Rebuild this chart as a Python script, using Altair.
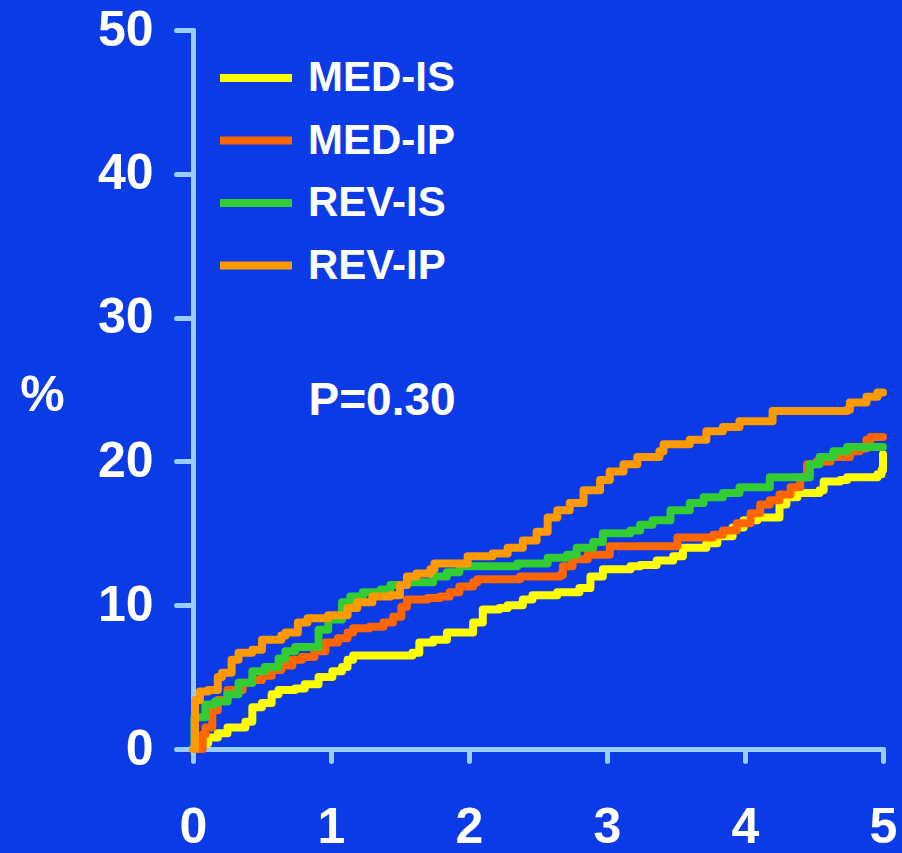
import altair as alt
import pandas as pd

series_names = ["MED-IS", "MED-IP", "REV-IS", "REV-IP"]
series_colors = ["#FFFF00", "#FF6600", "#33CC33", "#FF9900"]

med_is_t = [0, 0.03, 0.07, 0.11, 0.18, 0.25, 0.38, 0.43, 0.50, 0.57, 0.62, 0.74, 0.81, 0.91, 1.01, 1.08, 1.12, 1.16, 1.38, 1.59, 1.64, 1.74, 1.84, 1.96, 2.03, 2.10, 2.22, 2.28, 2.39, 2.46, 2.64, 2.80, 2.88, 2.97, 3.17, 3.24, 3.36, 3.48, 3.55, 3.72, 3.80, 3.91, 3.99, 4.09, 4.25, 4.30, 4.38, 4.54, 4.57, 4.69, 4.74, 4.96, 4.99, 5.0]
med_is_y = [0, 0.3, 0.4, 0.8, 1.1, 1.5, 1.9, 2.9, 3.2, 3.8, 4.1, 4.2, 4.5, 5.0, 5.4, 5.7, 6.2, 6.5, 6.5, 6.7, 7.4, 7.6, 8.1, 8.1, 8.8, 9.7, 9.8, 10.0, 10.4, 10.7, 10.9, 11.2, 12.0, 12.5, 12.7, 12.8, 13.1, 13.4, 14.0, 14.3, 14.8, 15.4, 15.9, 16.1, 17.0, 17.5, 17.8, 18.0, 18.6, 18.7, 18.9, 19.1, 19.4, 20.5]

med_ip_t = [0, 0.07, 0.09, 0.14, 0.18, 0.25, 0.36, 0.43, 0.50, 0.57, 0.64, 0.72, 0.79, 0.88, 0.96, 1.05, 1.12, 1.16, 1.28, 1.38, 1.45, 1.51, 1.55, 1.70, 1.79, 1.86, 1.93, 2.03, 2.06, 2.37, 2.66, 2.68, 2.75, 2.86, 3.02, 3.38, 3.51, 3.77, 3.84, 3.94, 4.04, 4.11, 4.18, 4.25, 4.33, 4.40, 4.45, 4.52, 4.62, 4.76, 4.83, 4.88, 4.91, 5.0]
med_ip_y = [0, 1.0, 1.5, 2.7, 3.4, 4.1, 4.6, 4.8, 5.1, 5.5, 5.8, 6.2, 6.4, 6.8, 7.4, 7.7, 8.1, 8.4, 8.5, 8.8, 9.2, 9.9, 10.4, 10.5, 10.6, 10.9, 11.3, 11.6, 11.8, 12.0, 12.1, 12.7, 13.2, 13.5, 14.1, 14.1, 14.7, 14.9, 15.2, 15.7, 16.4, 17.0, 17.3, 17.7, 18.2, 18.9, 19.8, 20.0, 20.3, 20.7, 20.9, 21.5, 21.7, 21.7]

rev_is_t = [0, 0.01, 0.09, 0.16, 0.25, 0.33, 0.43, 0.52, 0.62, 0.67, 0.74, 0.83, 0.91, 0.98, 1.08, 1.14, 1.23, 1.36, 1.43, 1.55, 1.64, 1.74, 1.84, 1.93, 2.03, 2.35, 2.57, 2.71, 2.78, 2.90, 2.97, 3.17, 3.24, 3.33, 3.46, 3.60, 3.70, 3.84, 3.96, 4.16, 4.18, 4.42, 4.47, 4.54, 4.64, 4.74, 5.0]
rev_is_y = [0, 2.2, 3.1, 3.3, 3.8, 4.6, 5.4, 5.7, 6.3, 6.8, 7.1, 7.1, 8.3, 9.0, 10.2, 10.6, 10.9, 11.1, 11.4, 11.6, 11.6, 12.0, 12.3, 12.7, 12.7, 12.9, 13.3, 13.5, 14.0, 14.4, 15.0, 15.2, 15.6, 15.9, 16.6, 17.1, 17.5, 17.8, 18.2, 18.2, 18.9, 18.9, 19.8, 20.3, 20.7, 21.0, 21.0]

rev_ip_t = [0, 0.015, 0.05, 0.11, 0.18, 0.21, 0.28, 0.33, 0.43, 0.50, 0.64, 0.67, 0.76, 0.83, 0.98, 1.12, 1.19, 1.30, 1.43, 1.50, 1.55, 1.62, 1.72, 1.75, 1.88, 1.99, 2.17, 2.28, 2.39, 2.49, 2.57, 2.64, 2.73, 2.83, 2.95, 3.02, 3.12, 3.22, 3.38, 3.41, 3.60, 3.72, 3.84, 3.96, 4.16, 4.20, 4.74, 4.76, 4.88, 4.96, 5.0]
rev_ip_y = [0, 3.4, 4.0, 4.1, 5.0, 5.3, 6.2, 6.7, 6.9, 7.6, 7.9, 8.1, 8.8, 9.1, 9.3, 9.8, 10.2, 10.6, 10.7, 11.4, 12.0, 12.2, 12.5, 12.9, 12.9, 13.4, 13.6, 14.0, 14.5, 15.1, 16.1, 16.6, 17.1, 18.0, 18.7, 19.3, 19.8, 20.3, 20.7, 21.2, 21.5, 22.1, 22.4, 22.8, 22.8, 23.5, 23.6, 24.1, 24.5, 24.8, 24.8]

x_ticks = [0, 1, 2, 3, 4, 5]
y_ticks = [0, 10, 20, 30, 40, 50]
p_label = "P=0.30"
p_pos = (1.37, 24.2)

rows = []
for name, ts, ys in zip(series_names,
                        [med_is_t, med_ip_t, rev_is_t, rev_ip_t],
                        [med_is_y, med_ip_y, rev_is_y, rev_ip_y]):
    for i, (t, y) in enumerate(zip(ts, ys)):
        rows.append({"series": name, "t": t, "pct": y, "order": i})
df = pd.DataFrame(rows)

FONT = "Liberation Sans"
BG = "#0B3BE6"
AXIS = "#99CCFF"

lines = alt.Chart(df).mark_line(
    interpolate="step-after", strokeWidth=8, strokeCap="round", strokeJoin="round"
).encode(
    x=alt.X("t:Q", scale=alt.Scale(domain=[0, 5], nice=False),
            axis=alt.Axis(values=x_ticks, format="d", title=None, tickSize=12,
                          labelPadding=41, labelBaseline="top", labelFontSize=50,
                          labelFlush=False)),
    y=alt.Y("pct:Q", scale=alt.Scale(domain=[0, 50], nice=False),
            axis=alt.Axis(values=y_ticks, format="d", title="%", tickSize=17, labelPadding=23,
                          labelFontSize=50, labelFlush=False, titleAngle=0, titleX=-151,
                          titleY=365, titleAlign="center", titleBaseline="middle",
                          titleFontSize=50)),
    color=alt.Color("series:N",
                    scale=alt.Scale(domain=series_names, range=series_colors),
                    legend=alt.Legend(title=None, orient="none", legendX=23, legendY=8,
                                      symbolType="stroke", symbolStrokeWidth=8,
                                      symbolSize=5184, labelFontSize=42,
                                      labelFont=FONT, labelFontWeight="bold",
                                      labelColor="white", labelOffset=12,
                                      rowPadding=1.5)),
    order="order:Q",
    detail="series:N",
)

ptext = alt.Chart(pd.DataFrame({"x": [p_pos[0]], "y": [p_pos[1]], "label": [p_label]})).mark_text(
    font=FONT, fontSize=46, fontWeight="bold", color="white", align="center", baseline="middle"
).encode(x="x:Q", y="y:Q", text="label:N")

chart = alt.layer(lines, ptext).properties(
    width=690, height=719, background=BG,
    padding={"left": 193, "top": 30, "right": 19, "bottom": 104},
    autosize=alt.AutoSizeParams(type="none"),
).configure_view(stroke=None).configure_axis(
    grid=False, domainColor=AXIS, domainWidth=5, domainCap="round",
    tickColor=AXIS, tickWidth=5, tickCap="round",
    labelColor="white", labelFont=FONT, labelFontWeight="bold",
    titleColor="white", titleFont=FONT, titleFontWeight="bold",
)

chart.save("out.html", embed_options={"renderer": "svg", "actions": False})
